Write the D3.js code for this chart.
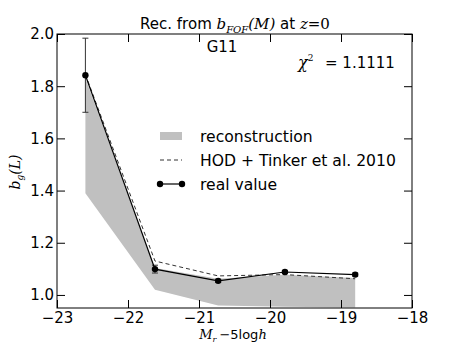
<!DOCTYPE html>
<html>
<head>
<meta charset="utf-8">
<script src="https://cdn.jsdelivr.net/npm/d3@7.9.0/dist/d3.min.js"></script>
<style>
  body { margin: 0; background: #fff; }
  svg text { font-family: "DejaVu Sans", sans-serif; fill: #000; }
  .math { font-family: "DejaVu Serif", serif; font-style: italic; }
</style>
</head>
<body>
<svg id="chart" width="458" height="343"></svg>
<script>
// values
const mag = [-22.6, -21.62, -20.73, -19.79, -18.8];
const realBias = [1.842, 1.099, 1.054, 1.088, 1.078];
const realErr = [0.142, 0.015, 0.006, 0.006, 0.006];
const hodBias = [1.845, 1.130, 1.073, 1.078, 1.062];
const recoLow = [1.39, 1.02, 0.96, 0.955, 0.952];
const recoHigh = [1.83, 1.103, 1.062, 1.077, 1.065];
const xTicks = [-23, -22, -21, -20, -19, -18];
const yTicks = [1.0, 1.2, 1.4, 1.6, 1.8, 2.0];

const svg = d3.select('#chart');
const pLeft = 57, pRight = 412, pTop = 34, pBottom = 308;

const x = d3.scaleLinear().domain([-23, -18]).range([pLeft, pRight]);
const y = d3.scaleLinear().domain([0.95, 2.0]).range([pBottom, pTop]);

svg.append('clipPath').attr('id', 'clip')
  .append('rect').attr('x', pLeft).attr('y', pTop)
  .attr('width', pRight - pLeft).attr('height', pBottom - pTop);

const plot = svg.append('g').attr('clip-path', 'url(#clip)');

// reconstruction band
let band = d3.area()
  .x((d, i) => x(mag[i]))
  .y0((d, i) => y(recoLow[i]))
  .y1((d, i) => y(recoHigh[i]));
plot.append('path').attr('d', band(mag)).attr('fill', '#c0c0c0');

// HOD + Tinker line
let line = d3.line().x(d => x(d[0])).y(d => y(d[1]));
plot.append('path')
  .attr('d', line(mag.map((m, i) => [m, hodBias[i]])))
  .attr('fill', 'none').attr('stroke', '#333').attr('stroke-width', 1)
  .attr('stroke-dasharray', '4,3');

// real value with error bars
mag.forEach((m, i) => {
  let y0 = y(realBias[i] - realErr[i]), y1 = y(realBias[i] + realErr[i]);
  plot.append('line').attr('x1', x(m)).attr('x2', x(m)).attr('y1', y0).attr('y2', y1)
    .attr('stroke', '#333').attr('stroke-width', 1);
  [y0, y1].forEach(yy => {
    plot.append('line').attr('x1', x(m) - 3).attr('x2', x(m) + 3).attr('y1', yy).attr('y2', yy)
      .attr('stroke', '#333').attr('stroke-width', 1);
  });
});
plot.append('path')
  .attr('d', line(mag.map((m, i) => [m, realBias[i]])))
  .attr('fill', 'none').attr('stroke', '#000').attr('stroke-width', 1.2);
plot.selectAll('circle.pt').data(mag).enter().append('circle')
  .attr('cx', d => x(d)).attr('cy', (d, i) => y(realBias[i])).attr('r', 3.2)
  .attr('fill', '#000');

// axes: ticks inward on all sides
const tickLen = 8;
const axisBottom = d3.axisBottom(x).tickValues(xTicks).tickSize(-tickLen).tickPadding(4)
  .tickFormat(d => d3.format('d')(d).replace('-', '\u2212'));
const axisTop = d3.axisTop(x).tickValues(xTicks).tickSize(-tickLen).tickFormat('');
const axisLeft = d3.axisLeft(y).tickValues(yTicks).tickSize(-tickLen).tickPadding(3)
  .tickFormat(d3.format('.1f'));
const axisRight = d3.axisRight(y).tickValues(yTicks).tickSize(-tickLen).tickFormat('');

function styleAxis(g) {
  g.select('.domain').remove();
  g.selectAll('line').attr('stroke', '#000').attr('stroke-width', 1);
  g.selectAll('text').attr('font-size', 15).attr('font-family', 'DejaVu Sans, sans-serif');
}
svg.append('g').attr('transform', `translate(0,${pBottom})`).call(axisBottom).call(styleAxis);
svg.append('g').attr('transform', `translate(0,${pTop})`).call(axisTop).call(styleAxis);
svg.append('g').attr('transform', `translate(${pLeft},0)`).call(axisLeft).call(styleAxis);
svg.append('g').attr('transform', `translate(${pRight},0)`).call(axisRight).call(styleAxis);

svg.append('rect').attr('x', pLeft).attr('y', pTop)
  .attr('width', pRight - pLeft).attr('height', pBottom - pTop)
  .attr('fill', 'none').attr('stroke', '#000').attr('stroke-width', 1);

// title
let title = svg.append('text').attr('x', 235).attr('y', 29)
  .attr('text-anchor', 'middle').attr('font-size', 15);
title.append('tspan').text('Rec. from ');
title.append('tspan').attr('class', 'math').text('b');
title.append('tspan').attr('class', 'math').attr('font-size', 10).attr('dy', 4).text('FOF');
title.append('tspan').attr('class', 'math').attr('dy', -4).text('(M)');
title.append('tspan').text(' at ');
title.append('tspan').attr('class', 'math').text('z');
title.append('tspan').attr('font-family', 'DejaVu Serif, serif').text('=0');

svg.append('text').attr('x', 222).attr('y', 52).attr('text-anchor', 'middle')
  .attr('font-size', 15).text('G11');

let chi = svg.append('text').attr('y', 68).attr('font-size', 15);
chi.append('tspan').attr('x', 298).attr('class', 'math').attr('font-size', 16).text('\u03c7');
chi.append('tspan').attr('font-family', 'DejaVu Serif, serif').attr('font-size', 9).attr('dy', -7).text('2');
chi.append('tspan').attr('x', 325).attr('dy', 7).text('= 1.1111');

// legend
const legendItems = ['reconstruction', 'HOD + Tinker et al. 2010', 'real value'];
const lg = svg.append('g');
legendItems.forEach((label, i) => {
  let yy = 136 + i * 24;
  if (i === 0) {
    lg.append('rect').attr('x', 160).attr('y', yy - 4).attr('width', 22).attr('height', 8)
      .attr('fill', '#c0c0c0');
  } else if (i === 1) {
    lg.append('line').attr('x1', 160).attr('x2', 182).attr('y1', yy).attr('y2', yy)
      .attr('stroke', '#333').attr('stroke-dasharray', '4,3');
  } else {
    lg.append('line').attr('x1', 160).attr('x2', 182).attr('y1', yy).attr('y2', yy)
      .attr('stroke', '#000').attr('stroke-width', 1.2);
    [160, 182].forEach(cx => lg.append('circle').attr('cx', cx).attr('cy', yy).attr('r', 3.2));
  }
  lg.append('text').attr('x', 200).attr('y', yy + 5.5).attr('font-size', 15.6).text(label);
});

// axis labels
let xl = svg.append('text').attr('x', 233).attr('y', 339).attr('text-anchor', 'middle')
  .attr('font-size', 13).attr('font-family', 'DejaVu Serif, serif');
xl.append('tspan').attr('class', 'math').text('M');
xl.append('tspan').attr('class', 'math').attr('font-size', 8).attr('dy', 3).text('r');
xl.append('tspan').attr('dy', -3).attr('dx', 3).text('\u22125log');
xl.append('tspan').attr('class', 'math').text('h');

let yl = svg.append('text').attr('transform', 'translate(20,172) rotate(-90)')
  .attr('text-anchor', 'middle').attr('font-size', 14).attr('font-family', 'DejaVu Serif, serif');
yl.append('tspan').attr('class', 'math').text('b');
yl.append('tspan').attr('class', 'math').attr('font-size', 9).attr('dy', 3).text('g');
yl.append('tspan').attr('class', 'math').attr('dy', -3).text('(L)');
</script>
</body>
</html>
